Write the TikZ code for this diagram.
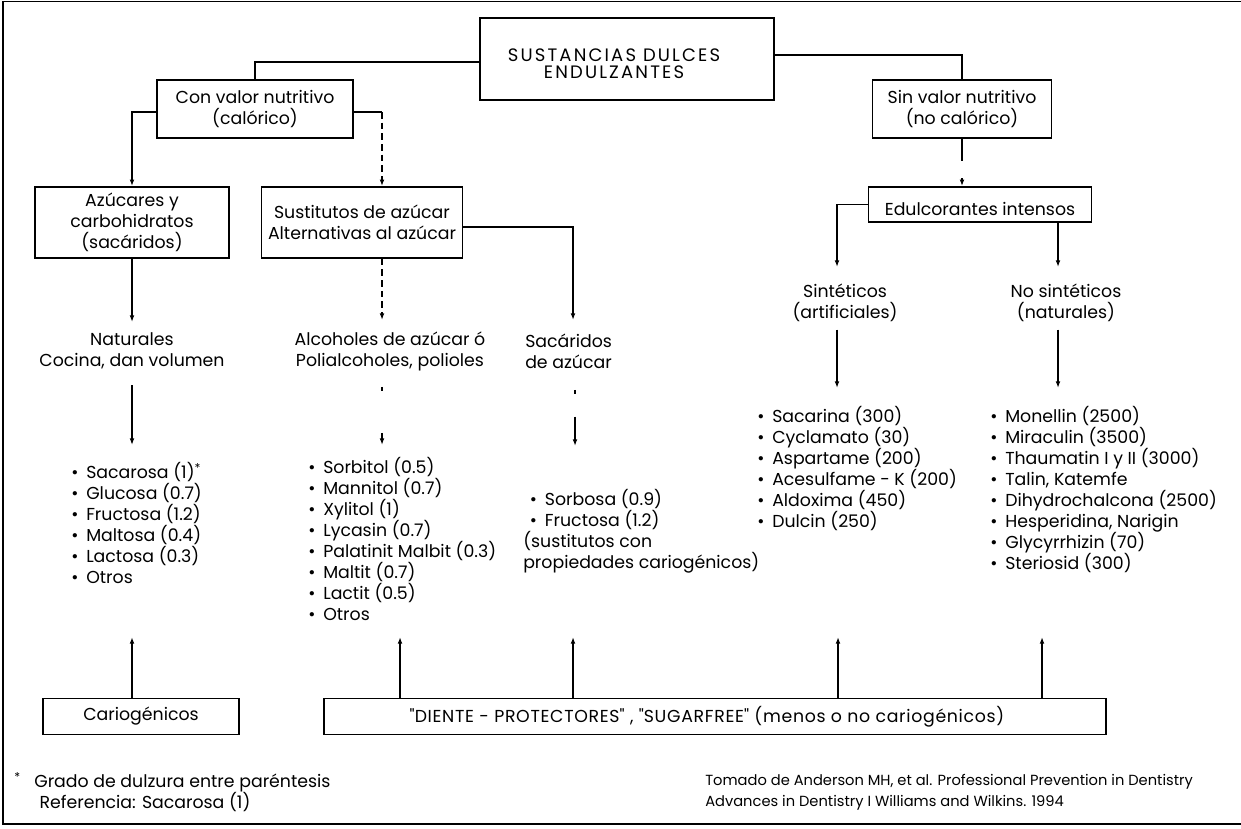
\documentclass[tikz,border=0pt]{standalone}
\usepackage{fontspec}
\setmainfont{Poppins}
\usetikzlibrary{arrows.meta}
\newcommand\bul{\makebox[11.25pt][l]{•}}
\newcommand\qq{\textquotedbl}
\begin{document}
\begin{tikzpicture}[x=0.75pt,y=-0.75pt,
  every node/.style={inner sep=0pt, font=\fontsize{13}{15.75}\selectfont},
  box/.style={draw, line width=1.2pt, align=center},
  lbl/.style={align=center},
  lst/.style={align=left, anchor=north west},
  ln/.style={line width=1pt},
  conn/.style={line width=1pt, -{Latex[length=5pt,width=3.6pt]}},
  dsh/.style={dash pattern=on 5pt off 3pt},
  fnote/.style={align=left, anchor=west}]
\useasboundingbox (0,0) rectangle (1241,828);
\draw[ln] (1241,1.5) -- (3,1.5) -- (3,824) -- (1241,824);

% boxes
\node[box, minimum width=294*0.75pt, minimum height=82*0.75pt] (root) at (627,59) {};
\node[lbl, font=\fontsize{13.5}{12.75}\selectfont\addfontfeature{LetterSpace=12}] (roottxt) at (614,64) {SUSTANCIAS DULCES\\ENDULZANTES};
\node[box, minimum width=196*0.75pt, minimum height=58*0.75pt] (conval) at (255,109) {Con valor nutritivo\\(calórico)};
\node[box, minimum width=179*0.75pt, minimum height=58*0.75pt] (sinval) at (962,109) {Sin valor nutritivo\\(no calórico)};
\node[box, minimum width=194*0.75pt, minimum height=71*0.75pt] (azuc) at (132,222.5) {Azúcares y\\carbohidratos\\(sacáridos)};
\node[box, minimum width=201*0.75pt, minimum height=71*0.75pt] (sustit) at (362,222.5) {Sustitutos de azúcar\\Alternativas al azúcar};
\node[box, minimum width=223*0.75pt, minimum height=35*0.75pt] (edul) at (980,204.5) {\raisebox{-3pt}[\height][\depth]{Edulcorantes intensos}};
\node[box, minimum width=196*0.75pt, minimum height=36*0.75pt] (cario) at (141,716.5) {Cariogénicos};
\node[box, minimum width=782*0.75pt, minimum height=36*0.75pt, font=\fontsize{13}{15.75}\selectfont\addfontfeature{LetterSpace=4}] (diente) at (715,716.5) {\hspace*{-12pt}\qq DIENTE - PROTECTORES\qq\ , \qq SUGARFREE\qq\ (menos o no cariogénicos)};

% labels
\node[lbl] (nat) at (132,351) {Naturales\\Cocina, dan volumen};
\node[lbl] (alc) at (390,351) {Alcoholes de azúcar ó\\Polialcoholes, polioles};
\node[align=left, anchor=west] (sac) at (525,351) {Sacáridos\\de azúcar};
\node[lbl] (sint) at (845,302.5) {Sintéticos\\(artificiales)};
\node[lbl] (nosint) at (1066,302.5) {No sintéticos\\(naturales)};

% lists
\node[lst] (lazu) at (71,462) {\bul Sacarosa (1)\textsuperscript{*}\\\bul Glucosa (0.7)\\\bul Fructosa (1.2)\\\bul Maltosa (0.4)\\\bul Lactosa (0.3)\\\bul Otros};
\node[lst] (lpol) at (308,457) {\bul Sorbitol (0.5)\\\bul Mannitol (0.7)\\\bul Xylitol (1)\\\bul Lycasin (0.7)\\\bul Palatinit Malbit (0.3)\\\bul Maltit (0.7)\\\bul Lactit (0.5)\\\bul Otros};
\node[lst] (lsac) at (523,489) {\hspace*{5pt}\bul Sorbosa (0.9)\\\hspace*{5pt}\bul Fructosa (1.2)\\(sustitutos con\\propiedades cariogénicos)};
\node[lst] (lsint) at (757,406) {\bul Sacarina (300)\\\bul Cyclamato (30)\\\bul Aspartame (200)\\\bul Acesulfame - K (200)\\\bul Aldoxima (450)\\\bul Dulcin (250)};
\node[lst] (lnos) at (990,406) {\bul Monellin (2500)\\\bul Miraculin (3500)\\\bul Thaumatin I y II (3000)\\\bul Talin, Katemfe\\\bul Dihydrochalcona (2500)\\\bul Hesperidina, Narigin\\\bul Glycyrrhizin (70)\\\bul Steriosid (300)};

% footnotes
\node[fnote, font=\fontsize{13}{15.75}\selectfont] (fn1) at (14,792) {\makebox[15pt][l]{\textsuperscript{*}}Grado de dulzura entre paréntesis\\\hspace*{19pt}Referencia: Sacarosa (1)};
\node[fnote, font=\fontsize{11}{15.75}\selectfont] (fn2) at (705,792) {Tomado de Anderson MH, et al. Professional Prevention in Dentistry\\Advances in Dentistry I  Williams and Wilkins. 1994};

% coordinates
\coordinate (sx) at (382,0);
\coordinate (a1) at (132,322);
\coordinate (a2) at (132,445);
\coordinate (p1) at (382,320);
\coordinate (p2) at (382,445);
\coordinate (s1) at (573,320);
\coordinate (s2) at (575,446);
\coordinate (y1) at (837,267);
\coordinate (y2) at (837,388);
\coordinate (n1) at (1058,267);
\coordinate (n2) at (1058,388);
\coordinate (b1) at (132,637);
\coordinate (b2) at (400,637);
\coordinate (b3) at (573,637);
\coordinate (b4) at (838,637);
\coordinate (b5) at (1042,637);

% connectors
\draw[ln] ([yshift=-2.25pt]root.west) -| (conval.north);
\draw[ln] ([yshift=3pt]root.east) -| (sinval.north);
\draw[conn] ([yshift=-2.25pt]conval.west) -| (azuc.north);
\draw[ln] ([yshift=-2.25pt]conval.east) -- ([yshift=-2.25pt]conval.east -| sx);
\draw[conn, dsh] ([yshift=-2.25pt]conval.east -| sx) -- (sustit.north -| sx);
\draw[conn, dash pattern=on 16.5pt off 13pt on 10pt] (sinval.south) -- (sinval.south |- edul.north);

\draw[conn] (azuc.south) -- (a1);
\draw[conn, shorten <=12pt] (nat.south) -- (a2);
\draw[conn, dsh] (sustit.south -| p1) -- (p1);
\draw[conn, shorten <=12pt, dash pattern=on 3pt off 31.5pt on 12pt] (alc.south -| p2) -- (p2);
\draw[conn] ([yshift=-3.4pt]sustit.east) -| (s1);
\draw[conn, shorten <=16pt, dash pattern=on 3pt off 17pt on 22pt] (sac.south -| s2) -- (s2);
\draw[conn] (edul.west) -| (y1);
\draw[conn] (edul.south -| n1) -- (n1);
\draw[conn, shorten <=6pt] (sint.south -| y2) -- (y2);
\draw[conn, shorten <=6pt] (nosint.south -| n2) -- (n2);

\draw[conn] (cario.north -| b1) -- (b1);
\draw[conn] (diente.north -| b2) -- (b2);
\draw[conn] (diente.north -| b3) -- (b3);
\draw[conn] (diente.north -| b4) -- (b4);
\draw[conn] (diente.north -| b5) -- (b5);
\end{tikzpicture}
\end{document}
